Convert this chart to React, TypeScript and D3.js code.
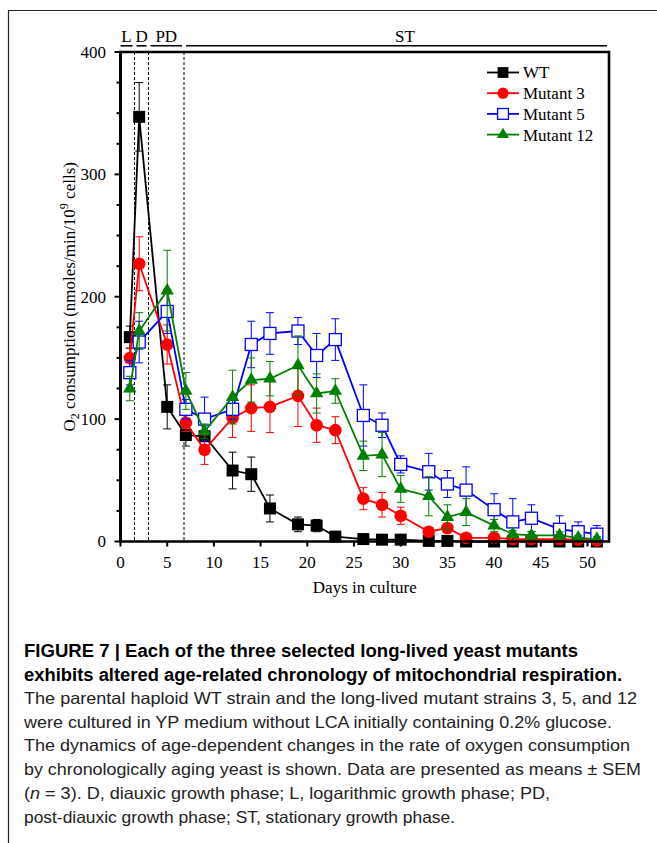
import React from 'react';
import * as d3 from 'd3';

// sampling days
const days = [1, 2, 5, 7, 9, 12, 14, 16, 19, 21, 23, 26, 28, 30, 33, 35, 37, 40, 42, 44, 47, 49, 51];

// O2 consumption means and SEM
const wt = [167, 347, 110, 87, 86, 58, 55, 27, 14, 13, 4, 2, 1.5, 1.5, 0.5, 0.5, 0, 0, 0, 0, 0, 0, 0];
const wtErr = [9, 28, 18, 9, 4, 15, 14, 11, 6, 5, 2, 1, 1, 1, 0, 0, 0, 0, 0, 0, 0, 0, 0];
const m3 = [150, 227, 161, 97, 75, 101, 109, 110, 119, 95, 91, 35, 30, 21, 8, 11, 3, 3, 2, 2, 2, 1.5, 1];
const m3Err = [8, 22, 16, 7, 12, 16, 19, 21, 25, 14, 11, 9, 10, 7, 3, 3, 1, 1, 1, 1, 1, 1, 1];
const m5 = [138, 163, 188, 108, 100, 108, 161, 170, 172, 152, 165, 103, 95, 63, 57, 47, 42, 26, 16, 19, 10, 8, 6];
const m5Err = [10, 17, 18, 8, 18, 8, 19, 17, 11, 18, 17, 25, 10, 7, 15, 11, 19, 13, 19, 11, 11, 8, 7];
const m12 = [125, 172, 205, 123, 90, 118, 132, 133, 144, 121, 123, 70, 71, 43, 37, 20, 24, 13, 6, 5, 5, 3, 2];
const m12Err = [10, 15, 33, 15, 6, 22, 18, 14, 24, 16, 10, 12, 18, 11, 16, 10, 11, 5, 3, 3, 3, 2, 2];

const seriesNames = ['WT', 'Mutant 3', 'Mutant 5', 'Mutant 12'];

// growth phases
const phaseLabels = ['L', 'D', 'PD', 'ST'];
const phaseBounds = [0, 1.5, 3, 6.8, 52.3];

const xTicks = [0, 5, 10, 15, 20, 25, 30, 35, 40, 45, 50];
const yTicks = [0, 100, 200, 300, 400];

const captionTitle = [
  'FIGURE 7 | Each of the three selected long-lived yeast mutants',
  'exhibits altered age-related chronology of mitochondrial respiration.',
];
const captionBody = [
  'The parental haploid WT strain and the long-lived mutant strains 3, 5, and 12',
  'were cultured in YP medium without LCA initially containing 0.2% glucose.',
  'The dynamics of age-dependent changes in the rate of oxygen consumption',
  'by chronologically aging yeast is shown. Data are presented as means \u00B1 SEM',
  '(n = 3). D, diauxic growth phase; L, logarithmic growth phase; PD,',
  'post-diauxic growth phase; ST, stationary growth phase.',
];
const titleWidths = [554, 598];
const bodyWidths = [613, 588, 606, 617, 526, 431];

const left = 120.5, right = 609, top = 52, bottom = 541.5;
const serif = 'Liberation Serif, Times New Roman, serif';
const sans = 'Liberation Sans, Arial, sans-serif';

const styles = [
  { color: '#000000', shape: 'square', fill: '#000000' },
  { color: '#ff0000', shape: 'circle', fill: '#ff0000' },
  { color: '#0000ff', shape: 'square', fill: '#ffffff' },
  { color: '#008000', shape: 'triangle', fill: '#008000' },
];

const Marker = ({ x, y, shape, color, fill, s = 1 }: any) => {
  if (shape === 'square') {
    const h = 6 * s;
    return <rect x={x - h} y={y - h} width={2 * h} height={2 * h} fill={fill} stroke={color} strokeWidth={fill === '#ffffff' ? 1.3 : 0} />;
  }
  if (shape === 'circle') return <circle cx={x} cy={y} r={6.3 * s} fill={fill} />;
  const p = d3.symbol().type(d3.symbolTriangle).size(78 * s * s)() as string;
  return <path d={p} transform={`translate(${x},${y})`} fill={fill} />;
};

export default function App() {
  const x = d3.scaleLinear().domain([0, 52.3]).range([left, right]);
  const y = d3.scaleLinear().domain([0, 400]).range([bottom, top]);
  const line = d3.line<[number, number]>().x(d => x(d[0])).y(d => y(d[1]));

  const values = [wt, m3, m5, m12];
  const errs = [wtErr, m3Err, m5Err, m12Err];
  const minorY = d3.range(0, 401, 25);

  return (
    <svg width={657} height={843} style={{ position: 'absolute', left: 0, top: 0, background: '#fff' }}>
      <rect x={0} y={0} width={657} height={843} fill="#fff" />
      <path d="M8.5,843 V10.5 H657" fill="none" stroke="#222" strokeWidth={1.2} />

      {/* phase dividers */}
      {phaseBounds.slice(1, 4).map((b, i) => (
        <line key={i} x1={x(b)} x2={x(b)} y1={top} y2={bottom} stroke="#000" strokeWidth={1} strokeDasharray="3,2" />
      ))}
      {phaseLabels.map((lab, i) => {
        const x0 = x(phaseBounds[i]) + (i === 0 ? 0 : 2);
        const x1 = x(phaseBounds[i + 1]) - 2;
        return (
          <g key={lab}>
            <line x1={x0} x2={x1} y1={45.8} y2={45.8} stroke="#000" strokeWidth={1.6} />
            <text x={i === 3 ? 405 : (x0 + x1) / 2} y={42} textAnchor="middle" fontFamily={serif} fontSize={17}>{lab}</text>
          </g>
        );
      })}

      {/* series */}
      {values.map((vals, si) => {
        const st = styles[si];
        const pts = days.map((d, i) => [d, vals[i]] as [number, number]);
        return (
          <g key={si}>
            {days.map((d, i) => {
              const e = errs[si][i];
              if (!e) return null;
              const cx = x(d);
              return (
                <g key={i} stroke={st.color} strokeWidth={1}>
                  <line x1={cx} x2={cx} y1={y(vals[i] + e)} y2={y(Math.max(0, vals[i] - e))} />
                  <line x1={cx - 4} x2={cx + 4} y1={y(vals[i] + e)} y2={y(vals[i] + e)} />
                  <line x1={cx - 4} x2={cx + 4} y1={y(Math.max(0, vals[i] - e))} y2={y(Math.max(0, vals[i] - e))} />
                </g>
              );
            })}
            <path d={line(pts) as string} fill="none" stroke={st.color} strokeWidth={1.8} />
            {pts.map((p, i) => (
              <Marker key={i} x={x(p[0])} y={y(p[1])} shape={st.shape} color={st.color} fill={st.fill} />
            ))}
          </g>
        );
      })}

      {/* axes and frame */}
      <line x1={left} x2={right} y1={top} y2={top} stroke="#000" strokeWidth={2.6} />
      <line x1={right} x2={right} y1={top - 1.3} y2={bottom + 1.3} stroke="#000" strokeWidth={2.6} />
      <line x1={left} x2={right} y1={bottom} y2={bottom} stroke="#000" strokeWidth={2.6} />
      <line x1={left} x2={left} y1={top - 1.3} y2={bottom + 1.3} stroke="#000" strokeWidth={3} />
      {minorY.map(t => (
        <line key={t} x1={left - (t % 100 === 0 ? 6 : 4)} x2={left} y1={y(t)} y2={y(t)} stroke="#000" strokeWidth={2} />
      ))}
      {yTicks.map(t => (
        <text key={t} x={106} y={y(t)} dy="0.35em" textAnchor="end" fontFamily={serif} fontSize={17}>{t}</text>
      ))}
      {xTicks.map(t => (
        <g key={t}>
          <line x1={x(t)} x2={x(t)} y1={bottom} y2={bottom + 5} stroke="#000" strokeWidth={2} />
          <text x={x(t)} y={568} textAnchor="middle" fontFamily={serif} fontSize={17}>{t}</text>
        </g>
      ))}
      <text x={(left + right) / 2} y={593} textAnchor="middle" fontFamily={serif} fontSize={17}>Days in culture</text>
      <text transform={`translate(75,${(top + bottom) / 2}) rotate(-90)`} textAnchor="middle" fontFamily={serif} fontSize={17}>
        O<tspan dy={4} fontSize={12}>2</tspan><tspan dy={-4}> consumption (nmoles/min/10</tspan><tspan dy={-7} fontSize={12}>9</tspan><tspan dy={7}> cells)</tspan>
      </text>

      {/* legend */}
      {seriesNames.map((n, i) => {
        const ly = 72.5 + i * 20.7;
        const st = styles[i];
        return (
          <g key={n}>
            <line x1={487} x2={519} y1={ly} y2={ly} stroke={st.color} strokeWidth={1.8} />
            <Marker x={503} y={ly} shape={st.shape} color={st.color} fill={st.fill} s={0.9} />
            <text x={523} y={ly} dy="0.35em" fontFamily={serif} fontSize={17}>{n}</text>
          </g>
        );
      })}

      {/* caption */}
      {captionTitle.map((t, i) => (
        <text key={i} x={24} y={657 + i * 24} fontFamily={sans} fontWeight="bold" fontSize={17.5}
          textLength={titleWidths[i]} lengthAdjust="spacingAndGlyphs">{t}</text>
      ))}
      {captionBody.map((t, i) => (
        <text key={i} x={24} y={704 + i * 23.7} fontFamily={sans} fontSize={16.5} fill="#222"
          textLength={bodyWidths[i]} lengthAdjust="spacingAndGlyphs">
          {i === 4 ? (<><tspan>(</tspan><tspan fontStyle="italic">n</tspan><tspan>{t.slice(2)}</tspan></>) : t}
        </text>
      ))}
    </svg>
  );
}
